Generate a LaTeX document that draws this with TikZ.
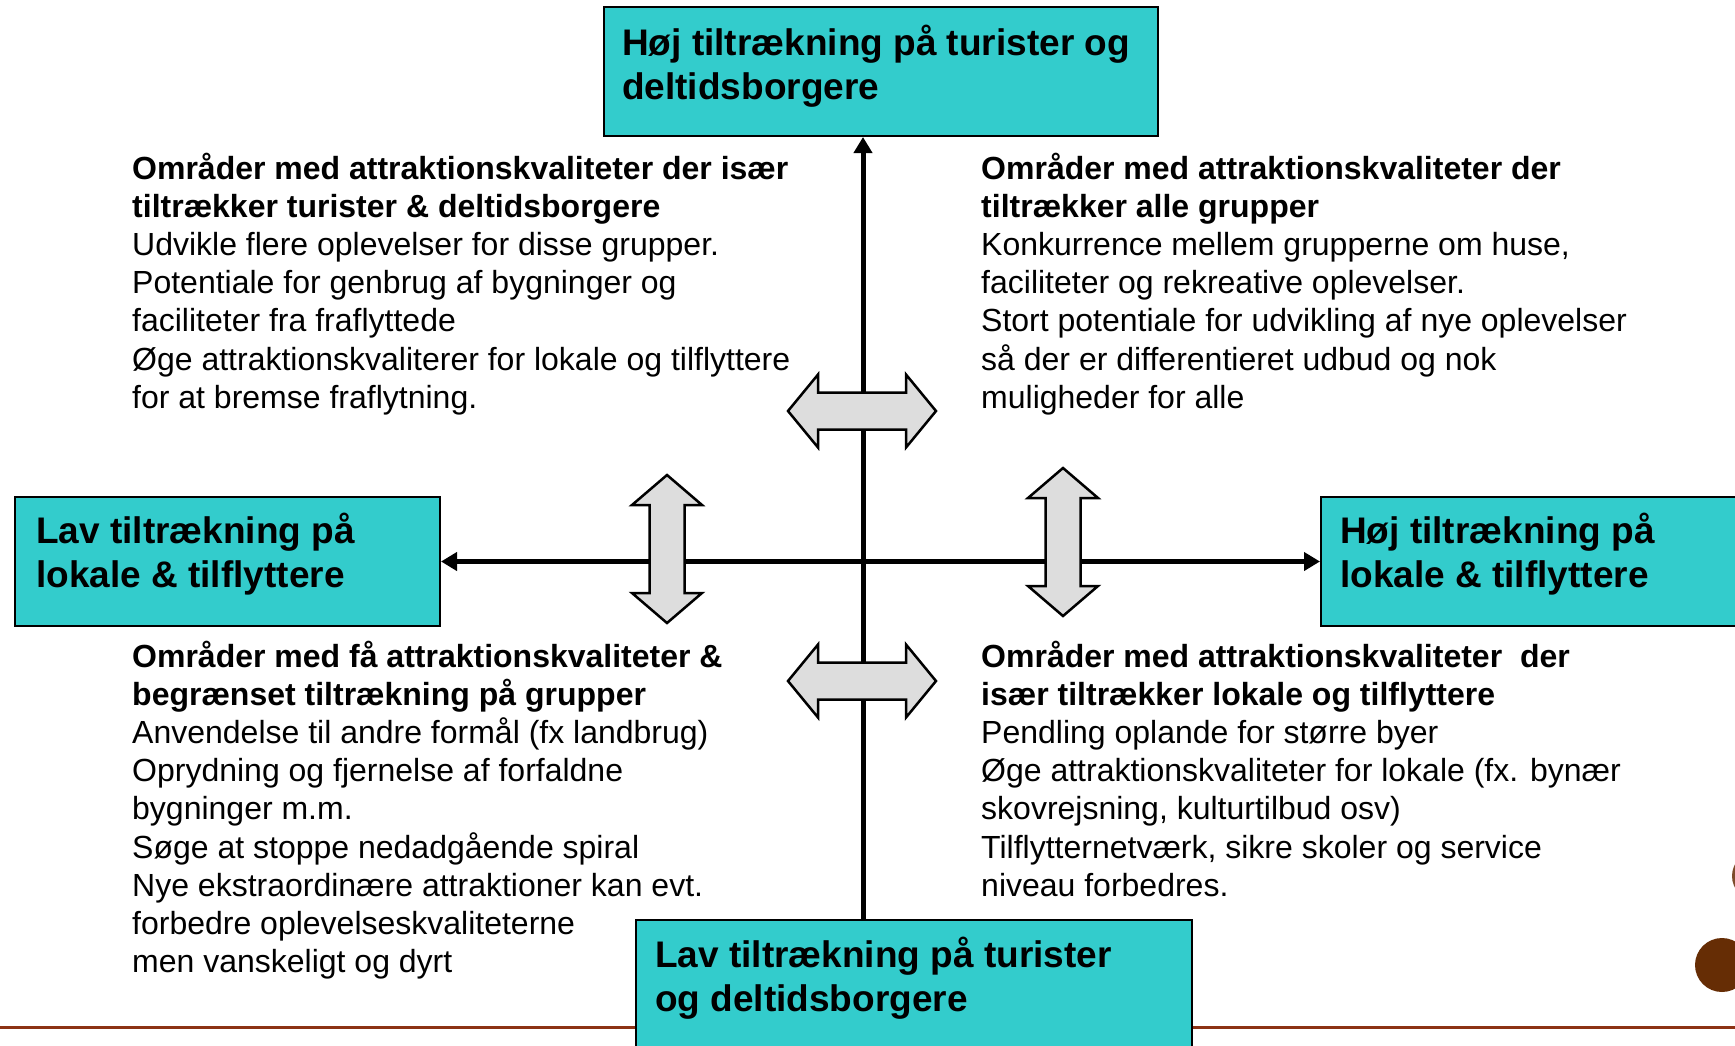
\documentclass[tikz,border=0pt]{standalone}
\usepackage{fontspec}
\setmainfont{Liberation Sans}
\usetikzlibrary{arrows.meta}
\definecolor{boxteal}{RGB}{51,204,204}
\definecolor{arrowgray}{RGB}{221,221,221}
\definecolor{rulebrown}{RGB}{140,50,20}
\definecolor{dotbrown}{RGB}{102,45,5}
\tikzset{
  box/.style={draw=black, line width=2pt, fill=boxteal, inner sep=0pt, anchor=north west},
  boxtext/.style={anchor=base west, inner sep=0pt, font=\fontsize{37}{44.3}\selectfont\bfseries},
  bodytext/.style={anchor=base west, inner sep=0pt, font=\fontsize{32}{38.2}\selectfont},
  axisv/.style={line width=5pt, -{Triangle[width=18pt,length=16pt]}},
  axish/.style={line width=5pt, {Triangle[width=18pt,length=16pt]}-{Triangle[width=18pt,length=16pt]}},
  dblarrow/.style={draw=black, line width=2.5pt, fill=arrowgray, line join=miter},
  hdbl/.pic={\draw[dblarrow] (-74,0) -- (-44,-36.5) -- (-44,-18.5) -- (44,-18.5) -- (44,-36.5) -- (74,0) -- (44,36.5) -- (44,18.5) -- (-44,18.5) -- (-44,36.5) -- cycle;},
  vdbl/.pic={\draw[dblarrow] (0,-74) -- (-35,-44) -- (-17.5,-44) -- (-17.5,44) -- (-35,44) -- (0,74) -- (35,44) -- (17.5,44) -- (17.5,-44) -- (35,-44) -- cycle;}
}
\begin{document}
\begin{tikzpicture}[x=1pt,y=-1pt]
\useasboundingbox (0,0) rectangle (1735,1045);
\clip (0,0) rectangle (1735,1045);
\fill[white] (0,0) rectangle (1735,1045);
% decorative rule and dots
\draw[rulebrown, line width=3pt] (0,1027) -- (1735,1027);
\fill[dotbrown] (1722,965) circle (27pt);
\fill[dotbrown!85] (1757,876) circle (25pt);
% boxes
\node[box, minimum width=554pt, minimum height=129pt] (top) at (603,6) {};
\node[box, minimum width=425pt, minimum height=129pt] (left) at (14,496) {};
\node[box, minimum width=440pt, minimum height=129pt] (right) at (1320,496) {};
\node[box, minimum width=556pt, minimum height=140pt] (bot) at (635,919) {};
\node[boxtext] (toptxt) at (622,55) {\parbox[t]{540pt}{Høj tiltrækning på turister og\\deltidsborgere}};
\node[boxtext] (lefttxt) at (36,543) {\parbox[t]{400pt}{Lav tiltrækning på\\lokale \& tilflyttere}};
\node[boxtext] (righttxt) at (1340,543) {\parbox[t]{400pt}{Høj tiltrækning på\\lokale \& tilflyttere}};
\node[boxtext] (bottxt) at (655,967) {\parbox[t]{540pt}{Lav tiltrækning på turister\\og deltidsborgere}};
% axes
\coordinate (ax) at (863,560.5);
\draw[axisv] (bot.north -| ax) -- (top.south -| ax);
\draw[axish] (left.east) -- (right.west);
% double arrows
\pic (da1) at (862,411) {hdbl};
\pic (da2) at (862,681) {hdbl};
\pic (da3) at (667,549) {vdbl};
\pic (da4) at (1063,542) {vdbl};
% quadrant texts
\node[bodytext] (tl) at (132,179) {\parbox[t]{720pt}{\textbf{Områder med attraktionskvaliteter der især}\\\textbf{tiltrækker turister \& deltidsborgere}\\Udvikle flere oplevelser for disse grupper.\\Potentiale for genbrug af bygninger og\\faciliteter fra fraflyttede\\Øge attraktionskvaliterer for lokale og tilflyttere\\for at bremse fraflytning.}};
\node[bodytext] (tr) at (981,179) {\parbox[t]{720pt}{\textbf{Områder med attraktionskvaliteter der}\\\textbf{tiltrækker alle grupper}\\Konkurrence mellem grupperne om huse,\\faciliteter og rekreative oplevelser.\\Stort potentiale for udvikling af nye oplevelser\\så der er differentieret udbud og nok\\muligheder for alle}};
\node[bodytext] (bl) at (132,667) {\parbox[t]{720pt}{\textbf{Områder med få attraktionskvaliteter \&}\\\textbf{begrænset tiltrækning på grupper}\\Anvendelse til andre formål (fx landbrug)\\Oprydning og fjernelse af forfaldne\\bygninger m.m.\\Søge at stoppe nedadgående spiral\\Nye ekstraordinære attraktioner kan evt.\\forbedre oplevelseskvaliteterne\\men vanskeligt og dyrt}};
\node[bodytext] (br) at (981,667) {\parbox[t]{720pt}{\textbf{Områder med attraktionskvaliteter\ \ der}\\\textbf{især tiltrækker lokale og tilflyttere}\\Pendling oplande for større byer\\Øge attraktionskvaliteter for lokale (fx. bynær\\skovrejsning, kulturtilbud osv)\\Tilflytternetværk, sikre skoler og service\\niveau forbedres.}};
\end{tikzpicture}
\end{document}
